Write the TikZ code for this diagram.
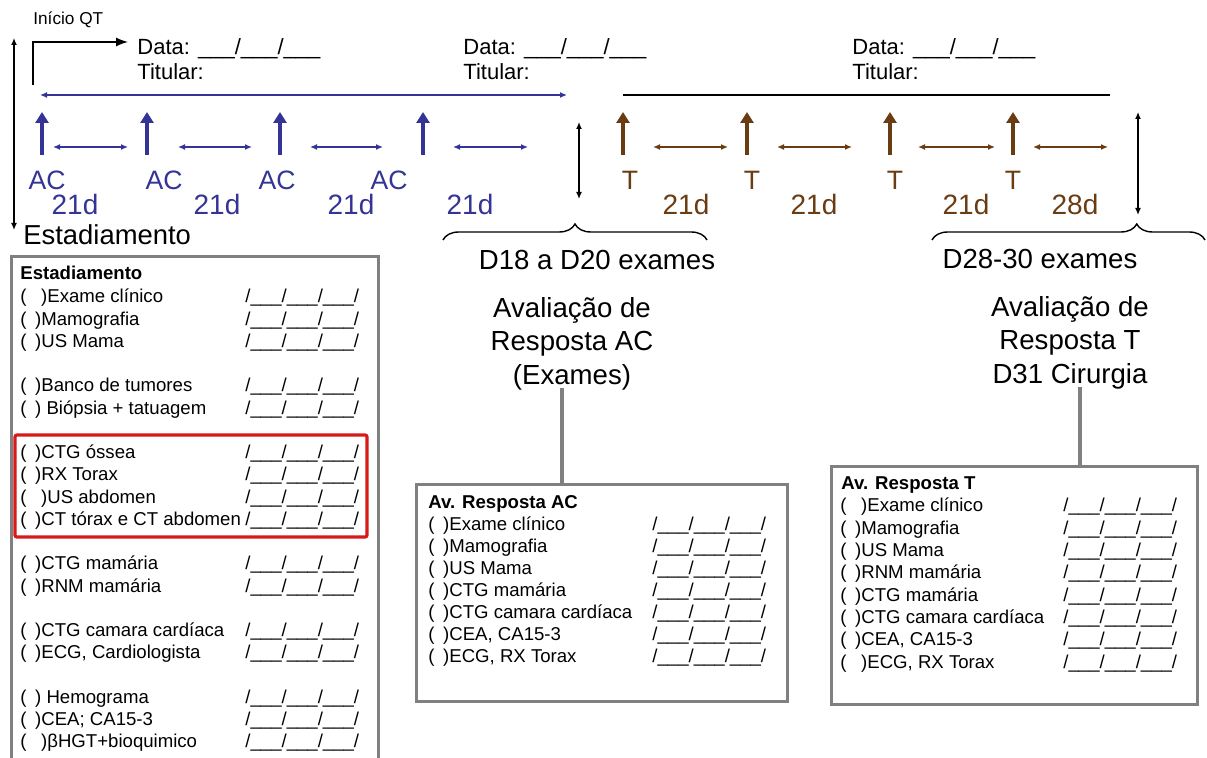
\documentclass[tikz,border=0pt]{standalone}
\usepackage{fontspec}
\setmainfont{Liberation Sans}
\usetikzlibrary{arrows.meta, positioning, calc, decorations.pathreplacing}

\definecolor{acblue}{RGB}{52,52,150}
\definecolor{tbrown}{RGB}{105,60,18}
\definecolor{panelgray}{RGB}{128,128,128}
\definecolor{markred}{RGB}{215,25,25}

\newcommand{\opt}{(\hspace{4.3pt})}
\newcommand{\optw}{(\hspace{7.3pt})}
\newcommand{\datefield}{/\_\_\_/\_\_\_/\_\_\_/}

\begin{document}
\begin{tikzpicture}[
    x=0.5pt, y=-0.5pt,
    >=Latex,
    font=\fontsize{11}{12.5}\selectfont,
    dose/.style={
        line width=2pt,
        -{Triangle[length=5.5pt, width=6.5pt]}
    },
    gap/.style={
        line width=0.65pt,
        {Latex[length=3.5pt, width=3pt]}-{Latex[length=3.5pt, width=3pt]}
    },
    drug/.style={
        anchor=base,
        inner sep=0pt,
        font=\fontsize{13.3}{15}\selectfont
    },
    days/.style={
        anchor=base,
        inner sep=0pt,
        font=\fontsize{14}{16}\selectfont
    },
    stamp/.style={
        align=left,
        anchor=north west,
        inner sep=0pt
    },
    heading/.style={
        align=center,
        inner sep=0pt,
        font=\fontsize{13.8}{16.7}\selectfont
    },
    panel/.style={
        draw=panelgray,
        line width=1.6pt,
        anchor=north west,
        inner sep=0pt
    },
    entry/.style={
        anchor=base west,
        inner sep=0pt,
        font=\fontsize{9.3}{11}\selectfont
    },
    link/.style={
        draw=panelgray,
        line width=1.6pt
    },
    curly/.style={
        decorate,
        decoration={brace, amplitude=8pt, aspect=#1},
        line width=0.7pt
    }
]
\useasboundingbox (0,0) rectangle (1207,758);

% Start of chemotherapy
\node[stamp, anchor=base west, font=\fontsize{8.6}{10}\selectfont] (inicio) at (33,25) {Início QT};
\coordinate (qtstart) at (33,85);
\coordinate (qtend) at (128,42);
\draw[->, line width=0.65pt] (qtstart) |- (qtend);
\draw[gap] (14,38) -- (14,230);

% Dates
\node[stamp] (data1) at (137,38) {Data: \_\_\_/\_\_\_/\_\_\_\\Titular:};
\node[stamp] (data2) at (463,38) {Data: \_\_\_/\_\_\_/\_\_\_\\Titular:};
\node[stamp] (data3) at (852,38) {Data: \_\_\_/\_\_\_/\_\_\_\\Titular:};

% Treatment spans
\draw[gap, acblue] (40,95) -- (567,95);
\draw[line width=0.65pt] (623,95) -- (1110,95);

% AC cycles
\foreach \x in {42,147,280,423}
    \draw[dose, acblue] (\x,155) -- (\x,112);
\foreach \x [count=\i] in {47,164,277,389}
    \node[drug, text=acblue] (ac\i) at (\x,190) {AC};
\foreach \a/\b in {53/128, 178/252, 310/383, 453/528}
    \draw[gap, acblue] (\a,147) -- (\b,147);
\foreach \x [count=\i] in {75,217,351,470}
    \node[days, text=acblue] (acd\i) at (\x,215) {21d};

% T cycles
\foreach \x in {623,747,890,1013}
    \draw[dose, tbrown] (\x,155) -- (\x,112);
\foreach \x [count=\i] in {630,752,895,1013}
    \node[drug, text=tbrown] (t\i) at (\x,190) {T};
\foreach \a/\b in {653/728, 777/852, 918/995, 1033/1108}
    \draw[gap, tbrown] (\a,147) -- (\b,147);
\foreach \x/\d [count=\i] in {686/21d, 814/21d, 966/21d, 1075/28d}
    \node[days, text=tbrown] (td\i) at (\x,215) {\d};

% Exam windows
\draw[gap] (579,122) -- (579,199);
\draw[gap] (1138,112) -- (1138,215);
\draw[curly=0.5] (443,240) -- (707,240);
\draw[curly=0.75] (932,240) -- (1205,240);

\node[anchor=base west, inner sep=0pt, font=\fontsize{13.7}{16}\selectfont] (estlabel) at (23,245) {Estadiamento};
\node[heading, anchor=base] (d18) at (597,270) {D18 a D20 exames};
\node[heading, anchor=base] (d28) at (1040,269) {D28-30 exames};

\node[heading, anchor=north] (avac) at (572,297) {Avaliação de\\Resposta AC\\(Exames)};
\node[heading, anchor=north] (avt) at (1070,296) {Avaliação de\\Resposta T\\D31 Cirurgia};

% Panels
\node[panel, minimum width=183.5pt, minimum height=257.5pt] (estbox) at (10,255) {};
\node[panel, minimum width=185.5pt, minimum height=108.5pt] (acbox) at (415,483) {};
\node[panel, minimum width=183pt, minimum height=119pt] (tbox) at (830,465) {};
\draw[draw=markred, line width=1.6pt, rounded corners=1pt] (15,435) rectangle (367,537);

\draw[link] ([xshift=-5pt, yshift=1pt]avac.south) -- ([xshift=-5pt]avac.south |- acbox.north);
\draw[link] ([xshift=5pt, yshift=1pt]avt.south) -- ([xshift=5pt]avt.south |- tbox.north);

% Staging list
\node[entry, font=\fontsize{9.3}{11}\selectfont\bfseries] (esttitle) at (20,280) {Estadiamento};
\foreach \row/\txt in {0/{\optw Exame clínico}, 1/{\opt Mamografia}, 2/{\opt US Mama},
    4/{\opt Banco de tumores}, 5/{\opt\ Biópsia + tatuagem},
    7/{\opt CTG óssea}, 8/{\opt RX Torax}, 9/{\optw US abdomen}, 10/{\opt CT tórax e CT abdomen},
    12/{\opt CTG mamária}, 13/{\opt RNM mamária},
    15/{\opt CTG camara cardíaca}, 16/{\opt ECG, Cardiologista},
    18/{\opt\ Hemograma}, 19/{\opt CEA; CA15-3}, 20/{\optw βHGT+bioquimico}} {
    \node[entry] (est\row) at (20,{303+22.25*\row}) {\txt};
    \node[entry] (estd\row) at (245,{303+22.25*\row}) {\datefield};
}

% AC response list
\node[entry, font=\fontsize{9.3}{11}\selectfont\bfseries] (actitle) at (428,509) {Av. Resposta AC};
\foreach \txt [count=\row from 0] in {Exame clínico, Mamografia, US Mama, CTG mamária,
    CTG camara cardíaca, {CEA, CA15-3}, {ECG, RX Torax}} {
    \node[entry] (acr\row) at (428,{531+21.9*\row}) {\opt\txt};
    \node[entry] (acrd\row) at (652,{531+21.9*\row}) {\datefield};
}

% T response list
\node[entry, font=\fontsize{9.3}{11}\selectfont\bfseries] (ttitle) at (841,490) {Av. Resposta T};
\foreach \row/\txt in {0/{\optw Exame clínico}, 1/{\opt Mamografia}, 2/{\opt US Mama},
    3/{\opt RNM mamária}, 4/{\opt CTG mamária}, 5/{\opt CTG camara cardíaca},
    6/{\opt CEA, CA15-3}, 7/{\optw ECG, RX Torax}} {
    \node[entry] (tr\row) at (840,{512+22.3*\row}) {\txt};
    \node[entry] (trd\row) at (1063,{512+22.3*\row}) {\datefield};
}

\end{tikzpicture}
\end{document}
